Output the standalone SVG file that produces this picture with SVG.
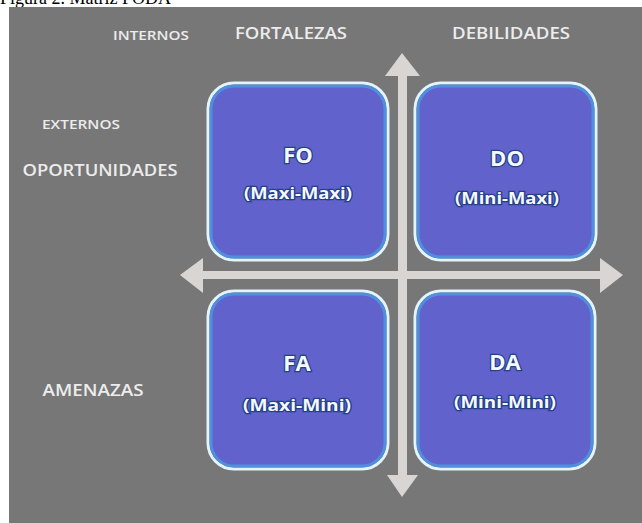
<svg xmlns="http://www.w3.org/2000/svg" width="642" height="523" viewBox="0 0 642 523">
<style>
.lbl{font-family:"Open Sans","Liberation Sans",sans-serif;font-weight:600;fill:#ececec;text-anchor:middle}
.box{fill:#6262cc;stroke:#4f8fde;stroke-width:3}
.rim{fill:none;stroke:#e4f4fb;stroke-width:3}
.t1{font-family:"Open Sans","Liberation Sans",sans-serif;font-weight:bold;font-size:22px;fill:#f4f8ff;stroke:#23408a;stroke-width:2.5;paint-order:stroke;text-anchor:middle}
.t2{font-family:"Open Sans","Liberation Sans",sans-serif;font-weight:bold;font-size:16px;fill:#f4f8ff;stroke:#23408a;stroke-width:2.5;paint-order:stroke;text-anchor:middle}
.arr{fill:#d9d5d2}
</style>
<rect x="0" y="0" width="642" height="523" fill="#ffffff"/>
<text x="0" y="4" font-family="Liberation Serif,serif" font-size="18" fill="#000">Figura 2. Matriz FODA</text>
<rect x="9" y="7" width="633" height="516" fill="#787777"/>
<g id="labels">
<text class="lbl" x="151" y="40" font-size="12.5" textLength="76" lengthAdjust="spacingAndGlyphs">INTERNOS</text>
<text class="lbl" x="291" y="39" font-size="16" textLength="112" lengthAdjust="spacingAndGlyphs">FORTALEZAS</text>
<text class="lbl" x="511" y="39" font-size="16" textLength="118" lengthAdjust="spacingAndGlyphs">DEBILIDADES</text>
<text class="lbl" x="81" y="129" font-size="12" textLength="78" lengthAdjust="spacingAndGlyphs">EXTERNOS</text>
<text class="lbl" x="100" y="176" font-size="16" textLength="155" lengthAdjust="spacingAndGlyphs">OPORTUNIDADES</text>
<text class="lbl" x="93" y="396" font-size="16" textLength="101" lengthAdjust="spacingAndGlyphs">AMENAZAS</text>
</g>
<g id="connectors">
<polygon class="arr" points="402,53 420,76 407,76 407,475 418,475 402,497 387,475 398,475 398,76 385,76"/>
<polygon class="arr" points="180,275 203,258 203,271 600,271 600,258 623,275 600,293 600,279 203,279 203,293"/>
</g>
<g id="FO">
<rect class="rim" x="208" y="83" width="180" height="177" rx="26"/>
<rect class="box" x="211" y="86" width="174" height="171" rx="23"/>
<text class="t1" x="298" y="163">FO</text>
<text class="t2" x="298" y="199" textLength="108" lengthAdjust="spacingAndGlyphs">(Maxi-Maxi)</text>
</g>
<g id="DO">
<rect class="rim" x="415" y="83" width="181" height="177" rx="26"/>
<rect class="box" x="418" y="86" width="175" height="171" rx="23"/>
<text class="t1" x="507" y="166">DO</text>
<text class="t2" x="507" y="204" textLength="104" lengthAdjust="spacingAndGlyphs">(Mini-Maxi)</text>
</g>
<g id="FA">
<rect class="rim" x="208" y="291" width="180" height="178" rx="26"/>
<rect class="box" x="211" y="294" width="174" height="172" rx="23"/>
<text class="t1" x="297" y="371">FA</text>
<text class="t2" x="297" y="411" textLength="108" lengthAdjust="spacingAndGlyphs">(Maxi-Mini)</text>
</g>
<g id="DA">
<rect class="rim" x="415" y="291" width="180" height="178" rx="26"/>
<rect class="box" x="418" y="294" width="174" height="172" rx="23"/>
<text class="t1" x="505" y="370">DA</text>
<text class="t2" x="505" y="408" textLength="102" lengthAdjust="spacingAndGlyphs">(Mini-Mini)</text>
</g>
</svg>
